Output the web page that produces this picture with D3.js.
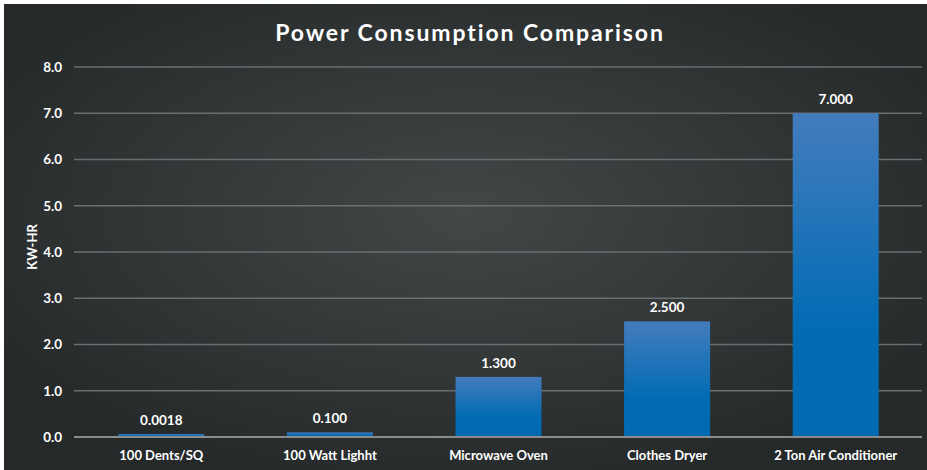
<!DOCTYPE html>
<html>
<head>
<meta charset="utf-8">
<script src="https://cdn.jsdelivr.net/npm/d3@7"></script>
<style>
  body { margin: 0; background: #fff; }
  text { font-family: Lato, "Open Sans", sans-serif; fill: #fff; }
</style>
</head>
<body>
<div id="chart"></div>
<script>
// datos del grafico
var categories = ["100 Dents/SQ", "100 Watt Lighht", "Microwave Oven", "Clothes Dryer", "2 Ton Air Conditioner"],
    values = [0.0018, 0.100, 1.300, 2.500, 7.000],
    valueLabels = ["0.0018", "0.100", "1.300", "2.500", "7.000"],
    yTicks = [0, 1, 2, 3, 4, 5, 6, 7, 8];

var chartWidth = 927,
    chartHeight = 470,
    margin = {top: 67, right: 5, bottom: 33, left: 74 },
    width = chartWidth - margin.left - margin.right,
    height = chartHeight - margin.top - margin.bottom;

var root = d3.select("#chart")
             .append("svg")
             .attr("width", chartWidth)
             .attr("height", chartHeight);

var defs = root.append("defs");

var bg = defs.append("radialGradient") // fondo oscuro con centro mas claro
             .attr("id", "bg")
             .attr("cx", "50%").attr("cy", "45%").attr("r", "60%");
bg.append("stop").attr("offset", "0%").attr("stop-color", "#424748");
bg.append("stop").attr("offset", "100%").attr("stop-color", "#25292a");

var barGrad = defs.append("linearGradient")
                  .attr("id", "barGrad")
                  .attr("x1", 0).attr("y1", 0).attr("x2", 0).attr("y2", 1);
barGrad.append("stop").attr("offset", "0%").attr("stop-color", "#437cbd");
barGrad.append("stop").attr("offset", "68%").attr("stop-color", "#006bb3");
barGrad.append("stop").attr("offset", "100%").attr("stop-color", "#006bb3");

root.append("rect")
    .attr("x", 4).attr("y", 4)
    .attr("width", chartWidth - 4).attr("height", chartHeight - 4)
    .attr("fill", "url(#bg)");

root.append("text")
    .attr("x", 470)
    .attr("y", 41)
    .attr("text-anchor", "middle")
    .style("font-size", "23px")
    .style("font-weight", "700")
    .style("letter-spacing", "1.9px")
    .text("Power Consumption Comparison");

var svg = root.append("g")
              .attr("transform", "translate(" + margin.left + "," + margin.top + ")");

var x = d3.scaleBand()
          .domain(categories)
          .range([3, 846])
          .paddingInner(0.49)
          .paddingOuter(0.245);

var y = d3.scaleLinear()
          .domain([0, 8])
          .range([height, 0]);

// lineas de la grilla
svg.append("g")
   .selectAll("line")
   .data(yTicks.filter(d => d > 0))
   .enter().append("line")
   .attr("x1", 0)
   .attr("x2", 848)
   .attr("y1", d => y(d))
   .attr("y2", d => y(d))
   .attr("stroke", "#6b6e6f")
   .attr("stroke-width", 1.5);

var yAxis = d3.axisLeft(y)
              .tickValues(yTicks)
              .tickFormat(d3.format(".1f"))
              .tickSize(0)
              .tickPadding(12);

svg.append("g")
   .attr("class", "axis-y")
   .call(yAxis)
   .call(g => g.select(".domain").remove())
   .selectAll("text")
   .style("font-size", "13.5px")
   .style("font-weight", "700")
   .attr("fill", "#fff");

svg.selectAll(".bar")
   .data(values)
   .enter().append("rect")
   .attr("class", "bar")
   .attr("x", (d, i) => x(categories[i]))
   .attr("width", x.bandwidth())
   .attr("y", d => Math.min(y(d), height - 3)) // altura minima visible
   .attr("height", d => Math.max(height - y(d), 3))
   .attr("fill", "url(#barGrad)");

// linea base
svg.append("line")
   .attr("x1", 0).attr("x2", 848)
   .attr("y1", height).attr("y2", height)
   .attr("stroke", "#8c8c8c")
   .attr("stroke-width", 2);

svg.selectAll(".val")
   .data(values)
   .enter().append("text")
   .attr("class", "val")
   .attr("x", (d, i) => x(categories[i]) + x.bandwidth() / 2)
   .attr("y", d => Math.min(y(d), height - 3) - 9)
   .attr("text-anchor", "middle")
   .style("font-size", "13.5px")
   .style("font-weight", "700")
   .text((d, i) => valueLabels[i]);

var xAxis = d3.axisBottom(x).tickSize(0).tickPadding(14);

svg.append("g")
   .attr("class", "axis-x")
   .attr("transform", "translate(0," + height + ")")
   .call(xAxis)
   .call(g => g.select(".domain").remove())
   .selectAll("text")
   .style("font-size", "13px")
   .style("font-weight", "700")
   .attr("fill", "#fff");

root.append("text")
    .attr("transform", "translate(37,247) rotate(-90)")
    .attr("text-anchor", "middle")
    .style("font-size", "13px")
    .style("font-weight", "700")
    .text("KW-HR");
</script>
</body>
</html>
